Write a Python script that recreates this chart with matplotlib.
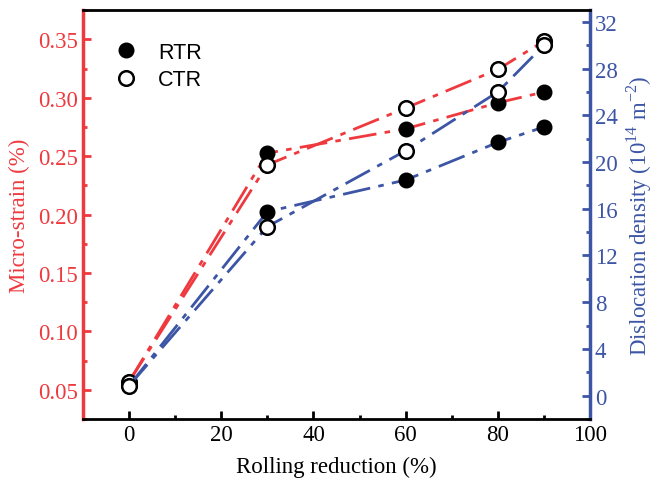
import matplotlib.pyplot as plt
from matplotlib.ticker import MultipleLocator
from matplotlib.lines import Line2D

# rolling reduction (%)
reduction = [0, 30, 60, 80, 90]

# micro-strain (%)
strain_rtr = [0.057, 0.2526, 0.2734, 0.2957, 0.3049]
strain_ctr = [0.057, 0.2426, 0.2912, 0.3243, 0.3485]

# dislocation density (1e14 m^-2)
disl_rtr = [0.85, 15.75, 18.46, 21.68, 23.0]
disl_ctr = [0.85, 14.47, 20.97, 26.0, 30.0]

red = "#EE3A3F"
blue = "#3C55A5"
dashdot = (0, (10, 3, 2, 3))

plt.rcParams["font.family"] = "Liberation Serif"
plt.rcParams["mathtext.fontset"] = "custom"
plt.rcParams["mathtext.rm"] = "Liberation Serif"

fig = plt.figure(figsize=(6.55, 4.85), dpi=100)
ax = fig.add_axes([0.1267, 0.134, 0.7741, 0.843])
ax2 = ax.twinx()

ms = 10.5
ax.plot(reduction, strain_rtr, color=red, lw=2, linestyle=dashdot, marker="o",
        markersize=ms, markerfacecolor="black", markeredgecolor="black", zorder=3)
ax.plot(reduction, strain_ctr, color=red, lw=2, linestyle=dashdot, marker="o",
        markersize=ms, markerfacecolor="white", markeredgecolor="black",
        markeredgewidth=1.8, zorder=4)
ax2.plot(reduction, disl_rtr, color=blue, lw=2, linestyle=dashdot, marker="o",
         markersize=ms, markerfacecolor="black", markeredgecolor="black", zorder=3)
ax2.plot(reduction, disl_ctr, color=blue, lw=2, linestyle=dashdot, marker="o",
         markersize=ms, markerfacecolor="white", markeredgecolor="black",
         markeredgewidth=1.8, zorder=4)

ax.set_xlim(-10, 100)
ax.set_ylim(0.025, 0.375)
ax2.set_ylim(-2, 33)

ax.xaxis.set_major_locator(MultipleLocator(20))
ax.xaxis.set_minor_locator(MultipleLocator(10))
ax.yaxis.set_major_locator(MultipleLocator(0.05))
ax.yaxis.set_minor_locator(MultipleLocator(0.025))
ax2.yaxis.set_major_locator(MultipleLocator(4))
ax2.yaxis.set_minor_locator(MultipleLocator(2))
ax.yaxis.set_major_formatter(plt.FormatStrFormatter("%.2f"))

ax.tick_params(axis="x", which="both", direction="in", top=False, labelsize=16.5,
               width=2, colors="black")
ax.tick_params(axis="x", which="major", length=6)
ax.tick_params(axis="x", which="minor", length=3)
ax.tick_params(axis="y", which="both", direction="in", width=2, colors=red, labelsize=16.5)
ax.tick_params(axis="y", which="major", length=6)
ax.tick_params(axis="y", which="minor", length=3)
ax2.tick_params(axis="y", which="both", direction="in", width=2, colors=blue, labelsize=16.5)
ax2.tick_params(axis="y", which="major", length=6)
ax2.tick_params(axis="y", which="minor", length=3)

for sp in ["top", "bottom"]:
    ax2.spines[sp].set_linewidth(2)
    ax2.spines[sp].set_color("black")
ax2.spines["left"].set_color(red)
ax2.spines["left"].set_linewidth(2.5)
ax2.spines["right"].set_color(blue)
ax2.spines["right"].set_linewidth(2.5)
for sp in ax.spines.values():
    sp.set_visible(False)

ax.set_xlabel("Rolling reduction (%)", fontsize=16.5, labelpad=8)
ax.set_ylabel("Micro-strain (%)", fontsize=16.5, color=red, labelpad=6)
ax2.set_ylabel(r"Dislocation density (10$^{14}$ m$^{-2}$)", fontsize=16.5,
               color=blue, labelpad=5)

handles = [
    Line2D([], [], linestyle="none", marker="o", markersize=ms,
           markerfacecolor="black", markeredgecolor="black"),
    Line2D([], [], linestyle="none", marker="o", markersize=ms,
           markerfacecolor="white", markeredgecolor="black", markeredgewidth=1.8),
]
ax.legend(handles, ["RTR", "CTR"], loc="upper left", bbox_to_anchor=(0.025, 0.97),
          frameon=False, prop={"family": "Liberation Sans", "size": 15.5},
          handlelength=1.0, handletextpad=1.0, labelspacing=0.3)

fig.savefig("out.png", dpi=100)
